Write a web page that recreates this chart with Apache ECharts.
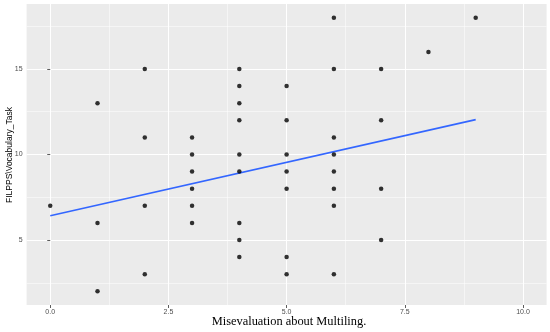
<!DOCTYPE html>
<html><head><meta charset="utf-8">
<script src="https://cdn.jsdelivr.net/npm/echarts@6/dist/echarts.min.js"></script>
<style>html,body{margin:0;padding:0;background:#fff}#c{width:550px;height:332px}</style>
</head><body><div id="c"></div>
<script>
// Data
const misevaluation = [0, 1,1,1, 2,2,2,2, 3,3,3,3,3,3, 4,4,4,4,4,4,4,4,4, 5,5,5,5,5,5,5, 6,6,6,6,6,6,6,6, 7,7,7,7, 8, 9];
const vocabulary   = [7, 13,6,2, 15,11,7,3, 11,10,9,8,7,6, 15,14,13,12,10,9,6,5,4, 14,12,10,9,8,4,3, 18,15,11,10,9,8,7,3, 15,12,8,5, 16, 18];
const fitX = [0, 9];
const fitY = [6.42, 12.04];
const xTicks = [0, 2.5, 5, 7.5, 10];
const xTickLabels = ['0.0', '2.5', '5.0', '7.5', '10.0'];
const xMinor = [1.25, 3.75, 6.25, 8.75];
const yTicks = [5, 10, 15];
const yTickLabels = ['5', '10', '15'];
const yMinor = [2.5, 7.5, 12.5, 17.5];
const xTitle = 'Misevaluation about Multiling.';
const yTitle = 'FILPPS\\Vocabulary_Task';

const points = misevaluation.map((x, i) => [x, vocabulary[i]]);
const fitLine = fitX.map((x, i) => [x, fitY[i]]);

const gridLines = []
  .concat(xMinor.map(v => ({ xAxis: v, lineStyle: { width: 0.5 } })))
  .concat(yMinor.map(v => ({ yAxis: v, lineStyle: { width: 0.5 } })))
  .concat(xTicks.map(v => ({ xAxis: v, lineStyle: { width: 1 } })))
  .concat(yTicks.map(v => ({ yAxis: v, lineStyle: { width: 1 } })));

const chart = echarts.init(document.getElementById('c'), null, { renderer: 'canvas' });
chart.setOption({
  animation: false,
  backgroundColor: '#ffffff',
  grid: { left: 26.6, top: 4, width: 520, height: 301, show: true, backgroundColor: '#EBEBEB', borderWidth: 0, containLabel: false, outerBoundsMode: 'none' },
  graphic: [{
    type: 'text', x: 10, y: 155, rotation: Math.PI / 2, silent: true,
    style: { text: yTitle, align: 'center', verticalAlign: 'middle', fontFamily: 'Liberation Sans', fontSize: 8.5, fill: '#000' }
  }, {
    type: 'text', x: 289, y: 322, silent: true,
    style: { text: xTitle, align: 'center', verticalAlign: 'middle', fontFamily: 'Liberation Serif', fontSize: 12.4, fill: '#000' }
  }],
  xAxis: {
    type: 'value', min: -0.5, max: 10.5,
    axisLine: { show: false },
    splitLine: { show: false },
    axisTick: { show: true, length: 3, lineStyle: { color: '#333333', width: 0.8 }, customValues: xTicks },
    axisLabel: { customValues: xTicks, formatter: v => xTickLabels[xTicks.indexOf(v)] ?? '', color: '#4D4D4D', fontSize: 7, fontFamily: 'Liberation Sans', margin: 4 }
  },
  yAxis: {
    type: 'value', min: 1.2, max: 18.8,
    axisLine: { show: false },
    splitLine: { show: false },
    axisTick: { show: true, length: 3, lineStyle: { color: '#333333', width: 0.8 }, customValues: yTicks },
    axisLabel: { customValues: yTicks, formatter: v => yTickLabels[yTicks.indexOf(v)] ?? '', color: '#4D4D4D', fontSize: 7, fontFamily: 'Liberation Sans', margin: 4 }
  },
  series: [
    {
      type: 'line', data: [], z: 0, silent: true,
      markLine: {
        silent: true, symbol: ['none', 'none'], z: 0, label: { show: false },
        lineStyle: { color: '#FFFFFF', type: 'solid' },
        emphasis: { disabled: true },
        data: gridLines
      }
    },
    {
      type: 'line', data: fitLine, z: 4, symbol: 'none', silent: true,
      lineStyle: { color: '#3366FF', width: 1.6 }
    },
    {
      type: 'scatter', data: points, z: 5, symbolSize: 4.5, silent: true,
      itemStyle: { color: '#000000' }
    }
  ]
});
</script>
</body></html>
